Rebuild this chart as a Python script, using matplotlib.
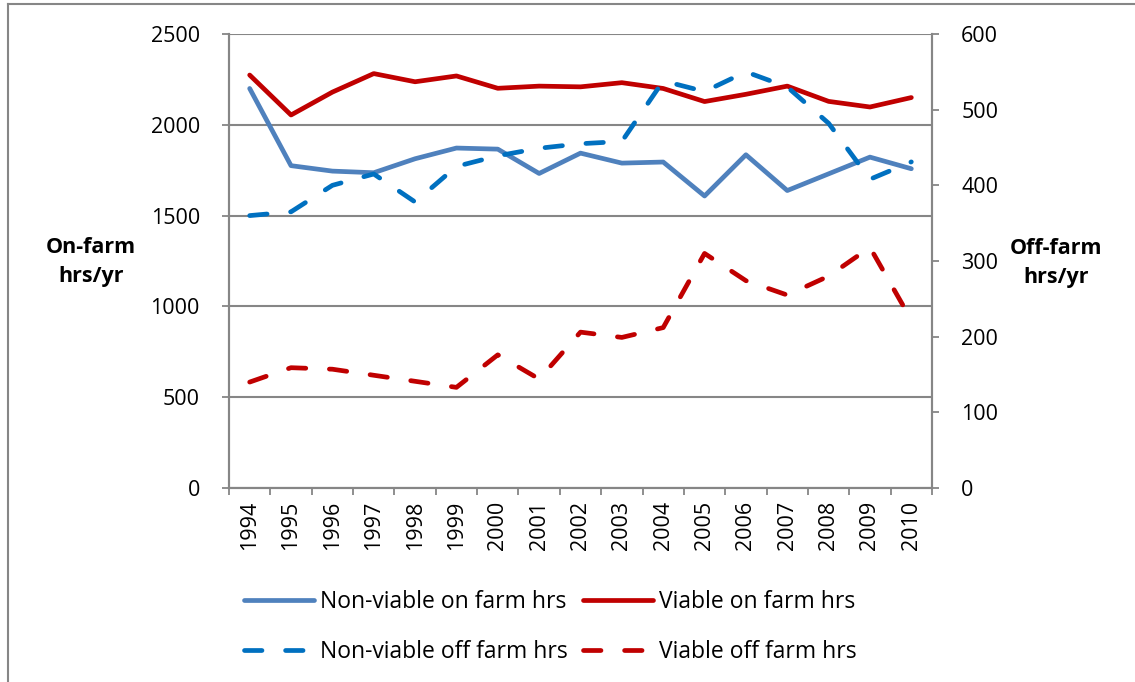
import matplotlib
matplotlib.use("Agg")
import matplotlib.pyplot as plt
from matplotlib.lines import Line2D
import numpy as np

years = ["1994", "1995", "1996", "1997", "1998", "1999", "2000", "2001", "2002",
         "2003", "2004", "2005", "2006", "2007", "2008", "2009", "2010"]
nonviable_on = [2200, 1775, 1745, 1736, 1813, 1872, 1866, 1732, 1844, 1789, 1795,
                1608, 1835, 1638, 1730, 1822, 1758]
viable_on = [2274, 2054, 2180, 2282, 2237, 2269, 2201, 2213, 2209, 2232, 2200,
             2128, 2168, 2213, 2129, 2098, 2150]
nonviable_off = [360, 365, 400, 415, 378, 425, 439, 449, 455, 458, 538,
                 524, 550, 530, 482, 408, 431]
viable_off = [140, 159, 157, 149, 141, 133, 176, 144, 206, 199, 212,
              310, 274, 255, 280, 318, 222]

left_ticks = [0, 500, 1000, 1500, 2000, 2500]
right_ticks = [0, 100, 200, 300, 400, 500, 600]

W, H = 1135, 682
plt.rcParams['font.family'] = ['Open Sans', 'DejaVu Sans']
FS_TICK = 15.5
FS = 16.5
FS_LAB = 15.5
GREY = '#868686'

fig = plt.figure(figsize=(W / 100, H / 100), dpi=100)
L, R, T, B = 229, 932, 34, 488
ax = fig.add_axes([L / W, (H - B) / H, (R - L) / W, (B - T) / H])
ax2 = ax.twinx()

x = np.arange(len(years))
lw = 3.4
dash = (3.7, 5.0)

l1, = ax.plot(x, nonviable_on, color='#4F81BD', lw=lw, solid_capstyle='round',
              solid_joinstyle='round', label='Non-viable on farm hrs', zorder=3)
l2, = ax.plot(x, viable_on, color='#C00000', lw=lw, solid_capstyle='round',
              solid_joinstyle='round', label='Viable on farm hrs', zorder=3)
l3, = ax2.plot(x, nonviable_off, color='#0070C0', lw=lw, dashes=dash,
               dash_capstyle='round', dash_joinstyle='round',
               label='Non-viable off farm hrs', zorder=3)
l4, = ax2.plot(x, viable_off, color='#C00000', lw=lw, dashes=dash,
               dash_capstyle='round', dash_joinstyle='round',
               label='Viable off farm hrs', zorder=3)

ax.set_xlim(-0.5, len(years) - 0.5)
ax.set_ylim(0, 2500)
ax2.set_ylim(0, 600)

ax.set_yticks(left_ticks)
ax.set_yticklabels([str(v) for v in left_ticks], fontsize=FS_TICK)
ax2.set_yticks(right_ticks)
ax2.set_yticklabels([str(v) for v in right_ticks], fontsize=FS_TICK)

ax.set_xticks(np.arange(-0.5, len(years), 1.0))
ax.set_xticklabels([])
ax.set_xticks(x, minor=True)
ax.set_xticklabels(years, minor=True, rotation=90, fontsize=FS_TICK)
ax.tick_params(axis='x', which='major', length=5, width=1.3, color=GREY, direction='out')
ax.tick_params(axis='x', which='minor', length=0, pad=9)
ax.tick_params(axis='y', length=5, width=1.3, color=GREY, direction='out', pad=16)
ax2.tick_params(axis='y', length=5, width=1.3, color=GREY, direction='out', pad=16)

ax.yaxis.grid(True, color=GREY, lw=1.5)
ax.set_axisbelow(True)
for a in (ax, ax2):
    a.spines['top'].set_visible(False)
    for s in ('left', 'right', 'bottom'):
        a.spines[s].set_color(GREY)
        a.spines[s].set_linewidth(1.5)

fig.text(91 / W, 1 - 262 / H, 'On-farm\nhrs/yr', ha='center', va='center',
         fontsize=FS_LAB, fontweight='bold', linespacing=1.45)
fig.text(1056 / W, 1 - 263 / H, 'Off-farm\nhrs/yr', ha='center', va='center',
         fontsize=FS_LAB, fontweight='bold', linespacing=1.45)

leg = fig.legend(handles=[l1, l3, l2, l4], ncol=2, frameon=False, fontsize=FS,
                 loc='upper left', bbox_to_anchor=(244 / W, 1 - 590 / H),
                 borderpad=0, borderaxespad=0, handlelength=3.05, handletextpad=0.25,
                 columnspacing=0.7, labelspacing=1.13)

# outer frame (partial)
fig.add_artist(Line2D([7.5 / W, 7.5 / W], [0, 1 - 4 / H], transform=fig.transFigure,
                      color=GREY, lw=1.5))
fig.add_artist(Line2D([7.5 / W, 1], [1 - 4 / H, 1 - 4 / H], transform=fig.transFigure,
                      color=GREY, lw=1.5))

fig.savefig('out.png', dpi=100)
